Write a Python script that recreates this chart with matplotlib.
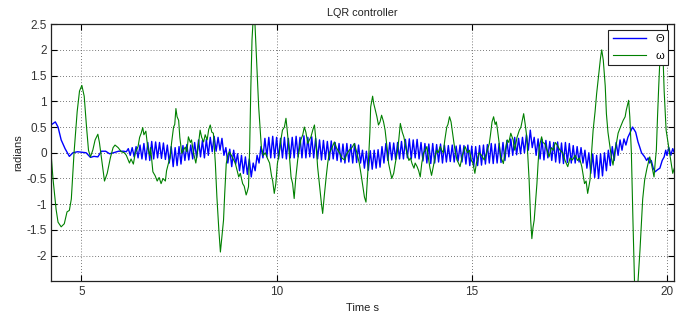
# LQR controller response (theta / omega)

import numpy as np
import matplotlib.pyplot as plt

plt.rcParams['font.family'] = ['Liberation Sans', 'DejaVu Sans']

# omega (green) : time / value pairs
omega_t = [4.22, 4.27, 4.35, 4.40, 4.48, 4.56, 4.63, 4.69, 4.74, 4.81, 4.89, 4.95, 5.01, 5.07, 5.13, 5.18,
           5.23, 5.29, 5.35, 5.42, 5.46, 5.52, 5.59, 5.66, 5.74, 5.81, 5.86, 5.94, 6.02, 6.10, 6.15, 6.23,
           6.27, 6.33, 6.38, 6.45, 6.49, 6.53, 6.57, 6.60, 6.65, 6.70, 6.75, 6.77, 6.83, 6.89, 6.94, 6.99,
           7.04, 7.09, 7.15, 7.18, 7.23, 7.27, 7.31, 7.36, 7.39, 7.42, 7.45, 7.49, 7.52, 7.57, 7.61, 7.66,
           7.70, 7.74, 7.79, 7.82, 7.87, 7.93, 7.98, 8.02, 8.04, 8.08, 8.13, 8.17, 8.22, 8.26, 8.30, 8.34,
           8.38, 8.43, 8.47, 8.52, 8.56, 8.59, 8.64, 8.67, 8.71, 8.75, 8.79, 8.84, 8.90, 8.94, 8.98, 9.03,
           9.07, 9.13, 9.17, 9.22, 9.25, 9.28, 9.31, 9.34, 9.37, 9.41, 9.44, 9.50, 9.54, 9.61, 9.66, 9.71,
           9.76, 9.82, 9.87, 9.90, 9.94, 9.98, 10.02, 10.07, 10.11, 10.15, 10.20, 10.24, 10.27, 10.31, 10.37, 10.41,
           10.45, 10.49, 10.54, 10.58, 10.62, 10.67, 10.71, 10.75, 10.80, 10.84, 10.88, 10.93, 10.97, 11.00, 11.05, 11.11,
           11.15, 11.18, 11.22, 11.27, 11.31, 11.35, 11.42, 11.48, 11.53, 11.61, 11.67, 11.74, 11.80, 11.86, 11.93, 11.99,
           12.05, 12.12, 12.18, 12.25, 12.29, 12.32, 12.35, 12.39, 12.41, 12.46, 12.49, 12.52, 12.57, 12.61, 12.65, 12.69,
           12.74, 12.78, 12.83, 12.87, 12.91, 12.95, 13.00, 13.04, 13.09, 13.13, 13.17, 13.22, 13.26, 13.30, 13.34, 13.39,
           13.43, 13.47, 13.52, 13.55, 13.60, 13.64, 13.68, 13.72, 13.77, 13.81, 13.85, 13.89, 13.93, 13.97, 14.02, 14.06,
           14.10, 14.14, 14.19, 14.23, 14.27, 14.31, 14.36, 14.39, 14.43, 14.47, 14.51, 14.56, 14.62, 14.66, 14.70, 14.76,
           14.83, 14.89, 14.94, 14.99, 15.03, 15.08, 15.12, 15.19, 15.25, 15.32, 15.38, 15.45, 15.48, 15.52, 15.56, 15.60,
           15.63, 15.66, 15.70, 15.74, 15.78, 15.81, 15.86, 15.91, 15.95, 16.00, 16.06, 16.10, 16.16, 16.22, 16.26, 16.30,
           16.33, 16.37, 16.41, 16.44, 16.47, 16.51, 16.54, 16.57, 16.60, 16.63, 16.67, 16.70, 16.73, 16.79, 16.82, 16.87,
           16.93, 16.98, 17.04, 17.09, 17.14, 17.19, 17.26, 17.33, 17.39, 17.46, 17.52, 17.58, 17.65, 17.71, 17.76, 17.82,
           17.89, 17.93, 17.97, 18.03, 18.07, 18.11, 18.16, 18.20, 18.25, 18.30, 18.33, 18.37, 18.42, 18.45, 18.49, 18.54,
           18.58, 18.62, 18.66, 18.71, 18.75, 18.81, 18.88, 18.93, 18.96, 19.02, 19.05, 19.09, 19.13, 19.17, 19.22, 19.26,
           19.31, 19.35, 19.38, 19.43, 19.49, 19.56, 19.60, 19.67, 19.71, 19.73, 19.76, 19.79, 19.82, 19.86, 19.90, 19.93,
           19.98, 20.07, 20.15, 20.19]
omega = [0.0, -0.5, -1.1, -1.35, -1.44, -1.38, -1.15, -1.12, -0.9, 0.0, 0.8, 1.2, 1.31, 1.1, 0.5, 0.05,
         -0.08, 0.05, 0.25, 0.36, 0.2, -0.15, -0.55, -0.4, -0.1, 0.1, 0.15, 0.1, 0.02, 0.0, -0.05, -0.2,
         -0.12, -0.22, 0.0, 0.12, 0.3, 0.38, 0.49, 0.35, 0.42, 0.09, -0.05, 0.1, -0.37, -0.45, -0.55, -0.48,
         -0.6, -0.5, -0.55, -0.35, -0.2, -0.1, 0.2, 0.5, 0.55, 0.86, 0.7, 0.63, 0.3, -0.01, 0.05, 0.11,
         0.02, 0.31, 0.2, 0.25, 0.0, -0.2, 0.05, 0.3, 0.44, 0.3, 0.21, 0.35, 0.25, 0.45, 0.54, 0.4,
         0.38, -0.2, -0.86, -1.5, -1.93, -1.7, -1.31, -0.8, -0.21, -0.05, 0.02, -0.05, -0.14, -0.2, -0.32, -0.47,
         -0.4, -0.6, -0.65, -0.82, -0.75, -0.66, 0.1, 1.28, 2.2, 2.75, 2.6, 1.6, 0.9, 0.1, -0.05, 0.0,
         -0.1, -0.2, -0.45, -0.55, -0.79, -0.6, -0.21, 0.0, 0.25, 0.44, 0.5, 0.67, 0.45, 0.12, -0.47, -0.6,
         -0.89, -0.5, -0.14, 0.05, 0.25, 0.35, 0.5, 0.4, 0.18, 0.25, 0.31, 0.45, 0.54, 0.3, -0.27, -0.7,
         -1.0, -1.18, -0.85, -0.47, -0.2, -0.01, 0.1, 0.21, 0.1, 0.0, -0.1, -0.14, -0.02, 0.05, 0.1, 0.18,
         0.02, -0.21, -0.5, -0.86, -0.96, -0.6, -0.21, 0.4, 0.89, 1.1, 0.95, 0.86, 0.7, 0.54, 0.6, 0.73,
         0.6, 0.44, 0.1, -0.21, -0.35, -0.5, -0.4, -0.21, 0.0, 0.25, 0.57, 0.4, 0.31, 0.15, -0.01, -0.15,
         -0.1, -0.21, -0.3, -0.2, -0.27, -0.35, -0.47, -0.2, 0.0, 0.05, 0.12, -0.1, -0.3, -0.44, -0.25, -0.08,
         0.05, 0.0, 0.12, 0.05, 0.0, 0.25, 0.5, 0.55, 0.7, 0.6, 0.38, 0.1, -0.14, -0.2, -0.27, -0.05,
         0.12, 0.0, 0.05, -0.15, -0.2, -0.4, -0.2, 0.0, -0.05, -0.14, 0.0, 0.18, 0.35, 0.6, 0.7, 0.55,
         0.6, 0.44, 0.2, -0.08, -0.15, -0.21, 0.05, 0.25, 0.2, 0.38, 0.25, 0.05, 0.3, 0.44, 0.5, 0.65,
         0.76, 0.55, 0.31, -0.1, -0.53, -1.31, -1.67, -1.45, -1.31, -1.0, -0.6, -0.2, 0.12, 0.31, 0.2, 0.18,
         0.05, -0.08, 0.1, 0.05, 0.2, 0.15, 0.05, 0.0, -0.15, -0.27, -0.1, -0.14, -0.05, -0.15, -0.1, -0.27,
         -0.6, -0.55, -0.79, -0.53, 0.0, 0.44, 0.8, 1.15, 1.5, 1.85, 2.0, 1.8, 1.3, 0.76, 0.4, 0.12,
         -0.1, -0.24, 0.0, 0.2, 0.38, 0.5, 0.63, 0.7, 0.83, 1.02, 0.7, 0.0, -1.31, -2.5, -2.9, -2.5,
         -1.9, -1.31, -0.9, -0.53, -0.3, -0.08, -0.2, -0.47, -0.1, 0.05, 0.7, 1.28, 1.8, 2.1, 1.9, 1.2,
         0.44, 0.0, -0.4, -0.3]

# theta (blue) : smooth start
theta_start_t = [4.22, 4.33, 4.40, 4.48, 4.58, 4.69, 4.78, 4.90, 5.00, 5.12, 5.23, 5.32, 5.42, 5.51,
                 5.62, 5.72, 5.82, 5.95, 6.08, 6.15]
theta_start = [0.54, 0.60, 0.50, 0.25, 0.08, -0.07, 0.0, 0.02, 0.01, 0.0, -0.09, -0.07, -0.08, 0.03,
               0.03, -0.02, 0.0, 0.03, 0.03, 0.02]

# theta : oscillating part, one sample every 0.05 s from 6.2 s to 19.0 s
theta_osc = [
    0.08, -0.05, 0.10, -0.08, 0.12, -0.10, 0.15, -0.12, 0.18, -0.14,
    0.20, -0.15, 0.22, -0.12, 0.21, -0.10, 0.20, -0.11, 0.19, -0.13,
    0.15, -0.20, 0.12, -0.27, 0.10, -0.25, 0.12, -0.22, 0.14, -0.15,
    0.16, -0.14, 0.15, -0.12, 0.20, -0.10, 0.25, -0.08, 0.24, -0.10,
    0.26, -0.05, 0.30, 0.02, 0.32, 0.03, 0.30, 0.05, 0.28, -0.05,
    0.10, -0.20, 0.07, -0.27, 0.05, -0.22, -0.02, -0.35, -0.05, -0.40,
    -0.08, -0.42, -0.12, -0.47, -0.20, -0.35, -0.05, -0.20, 0.12, -0.10,
    0.28, -0.08, 0.30, -0.10, 0.32, -0.10, 0.30, -0.12, 0.28, -0.10,
    0.30, -0.12, 0.28, -0.10, 0.30, -0.10, 0.32, -0.08, 0.30, -0.10,
    0.33, -0.10, 0.30, -0.08, 0.31, -0.10, 0.28, -0.12, 0.25, -0.14,
    0.24, -0.13, 0.22, -0.14, 0.23, -0.12, 0.20, -0.15, 0.18, -0.18,
    0.17, -0.20, 0.18, -0.18, 0.16, -0.20, 0.18, -0.19, 0.15, -0.20,
    0.05, -0.30, 0.03, -0.34, 0.04, -0.32, 0.05, -0.30, 0.06, -0.28,
    0.12, -0.20, 0.18, -0.15, 0.20, -0.14, 0.19, -0.13, 0.20, -0.12,
    0.22, -0.12, 0.26, -0.10, 0.27, -0.12, 0.25, -0.10, 0.26, -0.12,
    0.20, -0.16, 0.18, -0.20, 0.17, -0.21, 0.18, -0.20, 0.16, -0.18,
    0.17, -0.20, 0.15, -0.18, 0.14, -0.17, 0.15, -0.18, 0.13, -0.16,
    0.15, -0.18, 0.14, -0.22, 0.15, -0.25, 0.13, -0.27, 0.12, -0.25,
    0.14, -0.24, 0.15, -0.22, 0.16, -0.20, 0.18, -0.21, 0.17, -0.20,
    0.18, -0.19, 0.20, -0.15, 0.24, -0.08, 0.27, -0.05, 0.30, -0.04,
    0.28, -0.02, 0.30, 0.00, 0.35, 0.05, 0.44, 0.10, 0.30, -0.05,
    0.27, -0.12, 0.26, -0.14, 0.24, -0.10, 0.22, -0.15, 0.20, -0.18,
    0.21, -0.20, 0.19, -0.21, 0.20, -0.19, 0.18, -0.20, 0.14, -0.20,
    0.12, -0.18, 0.10, -0.20, 0.05, -0.30, 0.00, -0.40, -0.02, -0.48,
    -0.05, -0.50, -0.02, -0.45, 0.00, -0.35, 0.05, -0.25, 0.12, -0.15,
    0.20, -0.05, 0.25, 0.05, 0.27, 0.15, 0.30]
theta_osc_t = np.arange(len(theta_osc)) * 0.05 + 6.2

# theta : smooth end
theta_end_t = [19.05, 19.12, 19.20, 19.26, 19.30, 19.35, 19.43, 19.48, 19.52, 19.56, 19.60, 19.65,
               19.70, 19.76, 19.82, 19.88, 19.93, 19.97, 20.00, 20.05, 20.10, 20.15, 20.19]
theta_end = [0.38, 0.50, 0.40, 0.21, 0.12, 0.0, -0.08, -0.15, -0.10, -0.20, -0.15, -0.30,
             -0.37, -0.33, -0.30, -0.15, -0.08, 0.05, -0.05, 0.10, -0.05, 0.08, 0.0]

theta_t = np.concatenate([theta_start_t, theta_osc_t, theta_end_t])
theta = np.concatenate([theta_start, theta_osc, theta_end])

fig = plt.figure(figsize=(6.83, 3.14), dpi=100)
ax = fig.add_axes([0.0747, 0.104, 0.912, 0.819])

ax.plot(theta_t, theta, color=(0, 0, 1), lw=1.0, label='Θ')
ax.plot(omega_t, omega, color=(0, 0.5, 0), lw=0.8, label='ω')

ax.set_xlim(4.22, 20.18)
ax.set_ylim(-2.5, 2.5)
ax.set_xticks([5, 10, 15, 20])
ax.set_yticks([-2, -1.5, -1, -0.5, 0, 0.5, 1, 1.5, 2, 2.5])
ax.set_yticklabels(['-2', '-1.5', '-1', '-0.5', '0', '0.5', '1', '1.5', '2', '2.5'])
ax.tick_params(direction='in', length=4, width=0.8, top=True, right=True,
               labelsize=8.5, labelcolor='#333333', pad=3)
ax.grid(True, color='0.3', linestyle=(0, (1, 2.5)), linewidth=0.6)
for s in ax.spines.values():
    s.set_linewidth(0.9)
    s.set_color('#222222')

ax.set_title('LQR controller', fontsize=7.8, color='#222222', pad=6)
ax.set_xlabel('Time s', fontsize=8, color='#222222', labelpad=4)
ax.set_ylabel('radians', fontsize=8, color='#222222', labelpad=2)

leg = ax.legend(loc='upper right', fontsize=8, handlelength=3.0, fancybox=False,
                edgecolor='#222222', framealpha=1, borderaxespad=0.5, labelspacing=0.6)
leg.get_frame().set_linewidth(0.8)

fig.savefig('out.png', dpi=100)
